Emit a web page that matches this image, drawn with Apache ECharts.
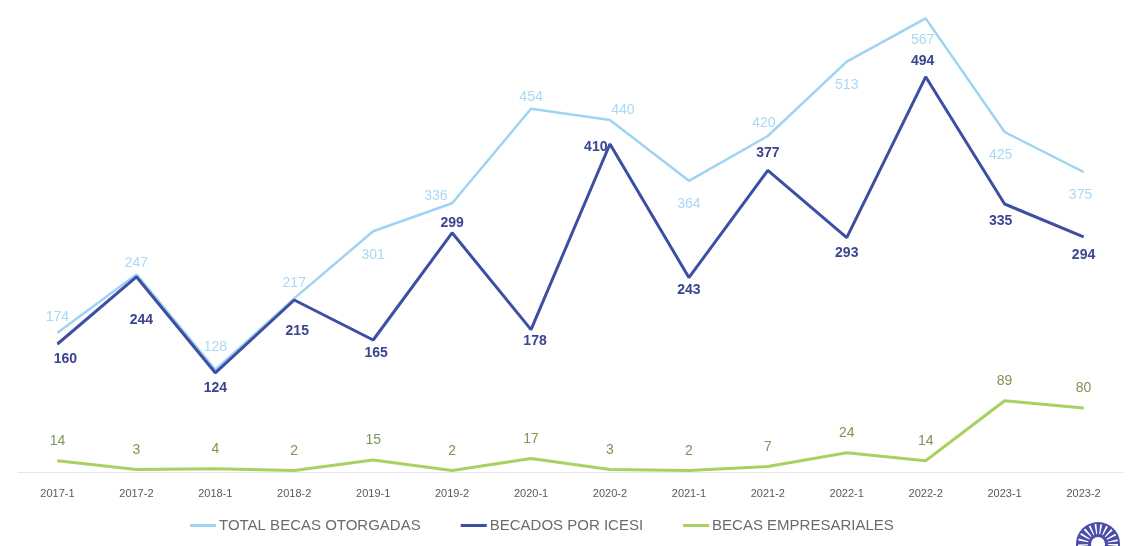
<!DOCTYPE html>
<html>
<head>
<meta charset="utf-8">
<script src="https://cdn.jsdelivr.net/npm/echarts@6/dist/echarts.min.js"></script>
<style>
html,body{margin:0;padding:0;background:#fff;}
#chart{width:1141px;height:546px;}
</style>
</head>
<body>
<div id="chart"></div>
<script>
var periodos = ['2017-1','2017-2','2018-1','2018-2','2019-1','2019-2','2020-1','2020-2','2021-1','2021-2','2022-1','2022-2','2023-1','2023-2'];
var totalBecas = [174,247,128,217,301,336,454,440,364,420,513,567,425,375];
var becadosIcesi = [160,244,124,215,165,299,178,410,243,377,293,494,335,294];
var becasEmpresariales = [14,3,4,2,15,2,17,3,2,7,24,14,89,80];

// label placement per point: [position, distance, dx, dy]
var posTotal = [
    ['top',8,0,0],['top',8,0,4],['top',8,0,-7],['top',8,0,0],['bottom',16,0,0],['left',4,0,-7],['top',8,0,4],
    ['top',8,13,6],['bottom',16,0,0],['top',8,-4,3],['bottom',16,0,0],['bottom',14,-3,0],['bottom',16,-4,0],['bottom',16,-3,0]
];
var posIcesi = [
    ['bottom',8,8,0],['bottom',8,5,28],['bottom',8,0,0],['bottom',8,3,16],['bottom',8,3,-2],['top',8,0,6],['bottom',8,4,-4],
    ['left',2,0,3],['bottom',8,0,-3],['top',8,0,-2],['bottom',8,0,0],['top',8,-3,0],['bottom',8,-4,2],['bottom',8,0,3]
];

function conEtiquetas(valores, pos){
    var out = [];
    for(var i=0;i<valores.length;i++){
        var p = pos[i];
        out.push({value: valores[i], label: {show: true, position: p[0], distance: p[1], offset: [p[2], p[3]]}});
    }
    return out;
}

var chart = echarts.init(document.getElementById('chart'));
var option = {
    animation: false,
    backgroundColor: '#fff',
    grid: {left: 18, right: 18, top: 0, bottom: 74},
    legend: {
        bottom: 8,
        left: 185,
        itemWidth: 26,
        itemHeight: 3,
        itemGap: 40,
        icon: 'rect',
        textStyle: {color: '#6b6b6b', fontSize: 15, fontFamily: 'Liberation Sans', padding: [0, 0, 0, -2]},
        data: ['TOTAL BECAS OTORGADAS','BECADOS POR ICESI','BECAS EMPRESARIALES']
    },
    xAxis: {
        type: 'category',
        data: periodos,
        boundaryGap: true,
        axisLine: {lineStyle: {color: '#e6e6e6', width: 1}},
        axisTick: {show: false},
        axisLabel: {color: '#595959', fontSize: 11, margin: 16, fontFamily: 'Liberation Sans'}
    },
    yAxis: {
        type: 'value',
        min: 0,
        max: 590,
        show: false,
        splitLine: {show: false}
    },
    series: [
        {
            name: 'TOTAL BECAS OTORGADAS',
            type: 'line',
            data: conEtiquetas(totalBecas, posTotal),
            symbol: 'circle',
            symbolSize: 1,
            color: '#9fd3f3',
            lineStyle: {width: 2.5, color: '#9fd3f3'},
            label: {show: true, color: '#a9d8f5', fontSize: 14, fontFamily: 'Liberation Sans'},
            z: 2
        },
        {
            name: 'BECADOS POR ICESI',
            type: 'line',
            data: conEtiquetas(becadosIcesi, posIcesi),
            symbol: 'circle',
            symbolSize: 1,
            color: '#3d4ea3',
            lineStyle: {width: 3, color: '#3d4ea3'},
            label: {show: true, color: '#3b4592', fontSize: 14, fontWeight: 'bold', fontFamily: 'Liberation Sans'},
            z: 3
        },
        {
            name: 'BECAS EMPRESARIALES',
            type: 'line',
            data: becasEmpresariales,
            symbol: 'circle',
            symbolSize: 1,
            color: '#a9d161',
            lineStyle: {width: 3, color: '#a9d161'},
            label: {show: true, position: 'top', color: '#7d9456', fontSize: 14, distance: 12, fontFamily: 'Liberation Sans'},
            z: 1
        }
    ],
    graphic: [
        {
            type: 'circle',
            shape: {cx: 1098, cy: 544, r: 22},
            style: {fill: '#4a4ea6'}
        },
        {
            type: 'circle',
            shape: {cx: 1098, cy: 544, r: 15},
            style: {fill: 'none', stroke: '#ffffff', lineWidth: 10, lineDash: [1.5, 3]}
        },
        {
            type: 'circle',
            shape: {cx: 1098, cy: 544, r: 7},
            style: {fill: '#ffffff'}
        }
    ]
};
chart.setOption(option);
window.onresize = chart.resize;
</script>
</body>
</html>
